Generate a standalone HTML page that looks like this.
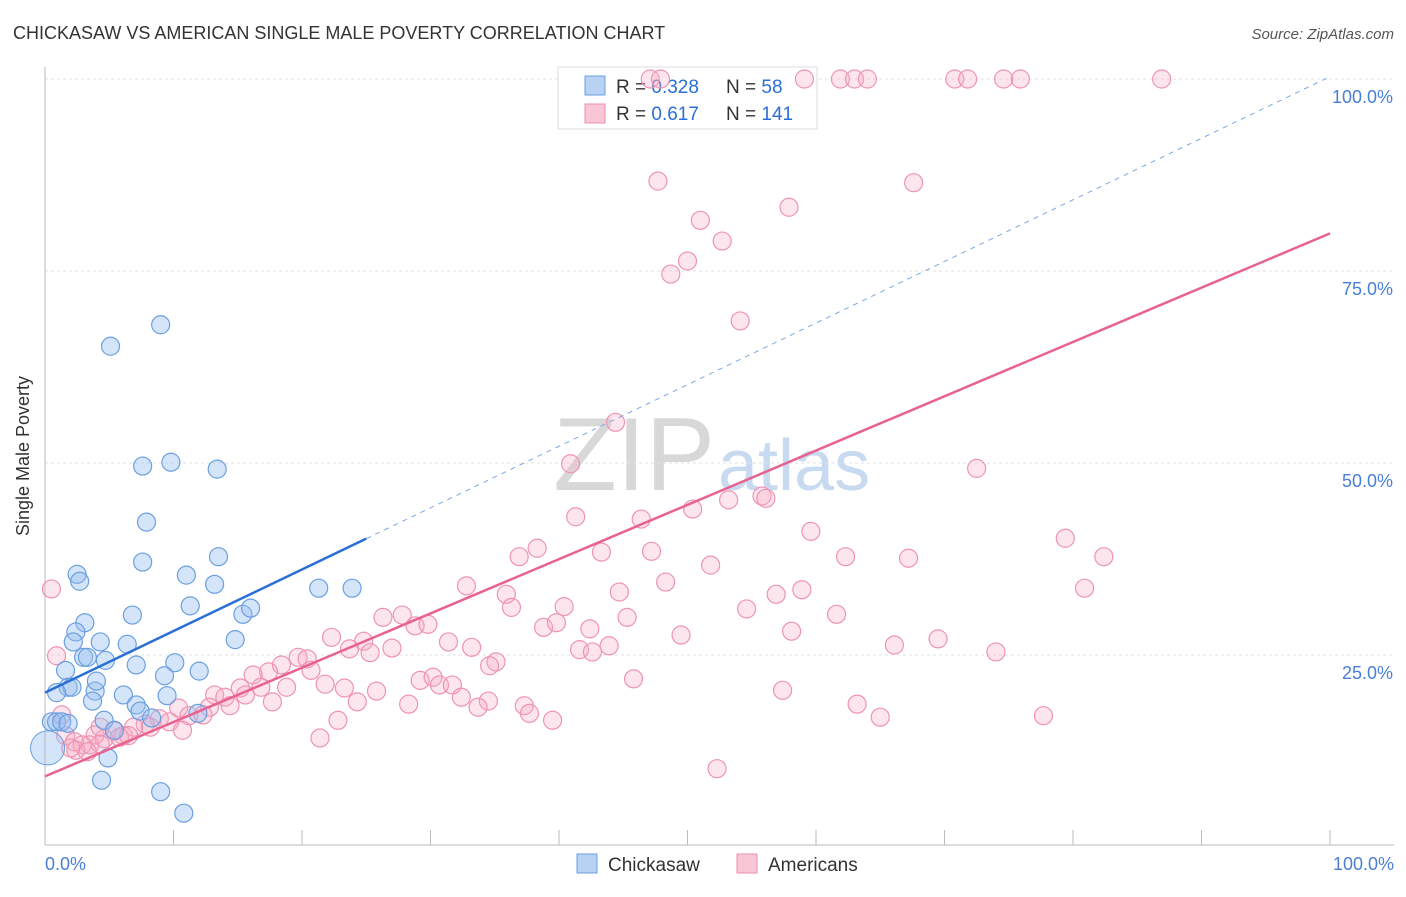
<!DOCTYPE html>
<html><head><meta charset="utf-8"><style>
body{margin:0;background:#fff;font-family:"Liberation Sans",sans-serif}
svg text{font-family:"Liberation Sans",sans-serif}
</style></head><body>
<svg width="1406" height="892">
<text x="13" y="39" font-size="18" fill="#333">CHICKASAW VS AMERICAN SINGLE MALE POVERTY CORRELATION CHART</text>
<text x="1394" y="39" font-size="15" fill="#555" text-anchor="end" font-style="italic">Source: ZipAtlas.com</text>
<text x="715" y="490" font-size="104" fill="#d8d8d8" text-anchor="end" font-family="Liberation Serif">ZIP</text>
<text x="718" y="490" font-size="72" fill="#c8daf0">atlas</text>
<g id="grid"></g>
<line x1="45" y1="67" x2="45" y2="845" stroke="#bbb"/>
<line x1="45" y1="845" x2="1394" y2="845" stroke="#bbb"/>
<g id="ticks"></g>
<text x="29" y="456" font-size="18" fill="#333" text-anchor="middle" transform="rotate(-90 29 456)">Single Male Poverty</text>
<text x="45" y="870" font-size="18" fill="#4a7fd6">0.0%</text>
<text x="1394" y="870" font-size="18" fill="#4a7fd6" text-anchor="end">100.0%</text>
<g>
<rect x="558" y="67" width="259" height="62" fill="#fff" stroke="#ddd"/>
<rect x="585" y="76" width="20" height="19" fill="#b8d2f4" stroke="#6a9fe0"/>
<rect x="585" y="104" width="20" height="19" fill="#f9c6d6" stroke="#ee8fb0"/>
<text x="616" y="93" font-size="19" fill="#333">R = <tspan fill="#2a6fd6">0.328</tspan></text>
<text x="726" y="93" font-size="19" fill="#333">N = <tspan fill="#2a6fd6"> 58</tspan></text>
<text x="616" y="120" font-size="19" fill="#333">R = <tspan fill="#2a6fd6"> 0.617</tspan></text>
<text x="726" y="120" font-size="19" fill="#333">N = <tspan fill="#2a6fd6">141</tspan></text>
</g>
<g id="pts"></g>
<g id="lines"></g>
<g><rect x="577" y="854" width="20" height="19" fill="#b8d2f4" stroke="#6a9fe0"/><text x="608" y="871" font-size="19" fill="#333">Chickasaw</text></g>
<g><rect x="737" y="854" width="20" height="19" fill="#f9c6d6" stroke="#ee8fb0"/><text x="768" y="871" font-size="19" fill="#333">Americans</text></g>
</svg>
<script>
const blueX=[9.0,5.1,7.6,9.8,13.4,7.9,7.6,13.5,2.5,2.7,11.0,13.2,21.3,23.9,11.3,6.8,15.4,16.0,3.1,2.4,2.2,4.3,6.4,14.8,3.0,3.3,4.7,7.1,10.1,1.6,12.0,9.3,1.8,2.1,0.9,3.9,4.0,6.1,9.5,3.7,7.1,7.4,8.3,11.9,4.6,0.5,0.9,1.3,1.8,5.4,3.6,4.9,4.4,9.0,10.8];
const blueY=[68.0,65.2,49.6,50.1,49.2,42.3,37.1,37.8,35.5,34.6,35.4,34.2,33.7,33.7,31.4,30.2,30.3,31.1,29.2,28.0,26.7,26.7,26.4,27.0,24.7,24.7,24.3,23.7,24.0,23.0,22.9,22.3,20.8,20.8,20.1,20.3,21.6,19.8,19.7,19.0,18.5,17.7,16.8,17.4,16.5,16.3,16.3,16.3,16.1,15.2,11.3,11.6,8.7,7.2,4.4];
const pinkX=[47.1,47.9,59.1,61.9,63.0,64.0,70.8,71.8,74.6,75.9,86.9,47.7,67.6,51.0,57.9,52.7,50.0,48.7,54.1,44.4,40.9,72.5,53.2,55.8,56.1,50.4,41.3,46.4,59.6,79.4,38.3,36.9,43.3,47.2,62.3,67.2,82.4,51.8,48.3,32.8,35.9,44.7,56.9,58.9,80.9,0.5,36.3,40.4,54.6,61.6,26.3,27.8,45.3,28.8,29.8,38.8,39.8,42.4,49.5,58.1,22.3,24.8,31.4,33.2,23.7,25.3,27.0,41.6,42.6,43.9,66.1,69.5,74.0,0.9,19.7,20.4,18.4,17.4,20.7,35.1,34.6,16.2,29.2,30.2,30.7,31.7,21.8,45.8,15.2,16.8,18.8,23.3,25.8,57.4,15.6,13.2,14.0,32.4,34.5,24.3,17.7,14.4,12.8,28.3,63.2,37.3,33.7,37.7,10.4,11.2,12.3,65.0,77.7,39.5,22.8,8.9,7.8,9.7,1.3,8.2,6.9,5.4,6.1,10.7,1.6,3.9,4.6,5.8,6.5,21.4,2.3,2.9,3.5,4.3,2.4,3.3,2.0,52.3,4.3];
const pinkY=[100,100,100,100,100,100,100,100,100,100,100,86.7,86.5,81.6,83.3,78.9,76.3,74.6,68.5,55.3,49.9,49.3,45.2,45.7,45.4,44.0,43.0,42.7,41.1,40.2,38.9,37.8,38.4,38.5,37.8,37.6,37.8,36.7,34.5,34.0,32.9,33.2,32.9,33.5,33.7,33.6,31.2,31.3,31.0,30.3,29.9,30.2,29.9,28.8,29.0,28.6,29.2,28.4,27.6,28.1,27.3,26.8,26.7,26.0,25.8,25.3,25.9,25.7,25.4,26.2,26.3,27.1,25.4,24.9,24.7,24.5,23.7,22.8,23.0,24.1,23.6,22.4,21.7,22.1,21.1,21.1,21.2,21.9,20.7,20.8,20.8,20.7,20.3,20.4,19.8,19.8,19.5,19.5,19.0,18.9,18.9,18.4,18.2,18.6,18.6,18.4,18.2,17.4,18.1,17.1,17.2,16.9,17.1,16.5,16.5,16.7,16.0,16.3,17.2,15.6,15.6,15.1,14.5,15.2,14.5,14.6,14.1,14.3,14.5,14.2,13.7,13.3,13.3,13.4,12.6,12.4,12.9,10.2,15.6];
const blueFit=[20.1,100.3];
const pinkFit=[9.2,79.9];
const yTicks=[25,50,75,100];
const NS='http://www.w3.org/2000/svg';
const sx=v=>45+v*12.85, sy=v=>847-v*7.68;
function mk(t,a,p){const e=document.createElementNS(NS,t);for(const k in a)e.setAttribute(k,a[k]);p.appendChild(e);return e;}
const grid=document.getElementById('grid'),ticks=document.getElementById('ticks');
yTicks.forEach(t=>{
 const l=mk('line',{x1:45,x2:1394,y1:sy(t),y2:sy(t),stroke:'#e2e2e2','stroke-dasharray':'3,3'},grid);
 
 
 const tx=mk('text',{x:1393,y:sy(t)+24,'font-size':18,fill:'#4a7fd6','text-anchor':'end'},grid);
 tx.textContent=t.toFixed(1)+'%';
 
 
});
for(let i=0;i<=10;i++){
 const l=mk('line',{x1:sx(i*10),x2:sx(i*10),y1:830,y2:845,stroke:'#bbb'},ticks);
 
 
}
const pts=document.getElementById('pts');
pinkX.forEach((x,i)=>{const c=mk('circle',{cx:sx(x),cy:sy(pinkY[i]),r:9,fill:'rgba(246,170,196,0.3)',stroke:'#ef93b3','stroke-width':1.2},pts);
 
 });
blueX.forEach((x,i)=>{const c=mk('circle',{cx:sx(x),cy:sy(blueY[i]),r:i===50?0:9,fill:'rgba(150,190,240,0.4)',stroke:'#6a9fe0','stroke-width':1.2},pts);
 
 });
const big=mk('circle',{cx:sx(0.2),cy:sy(12.9),r:17,fill:'rgba(150,190,240,0.4)',stroke:'#6a9fe0'},pts);


const lines=document.getElementById('lines');
const bf=x=>blueFit[0]+(blueFit[1]-blueFit[0])*x/100, pf=x=>pinkFit[0]+(pinkFit[1]-pinkFit[0])*x/100;
let l=mk('line',{x1:sx(25),y1:sy(bf(25)),x2:sx(100),y2:sy(bf(100)),stroke:'#7aa8e0','stroke-width':1,'stroke-dasharray':'5,5'},lines);


l=mk('line',{x1:sx(0),y1:sy(bf(0)),x2:sx(25),y2:sy(bf(25)),stroke:'#2a6fd6','stroke-width':2.5},lines);


l=mk('line',{x1:sx(0),y1:sy(pf(0)),x2:sx(100),y2:sy(pf(100)),stroke:'#e8628f','stroke-width':2.5},lines);


</script>
</body></html>
